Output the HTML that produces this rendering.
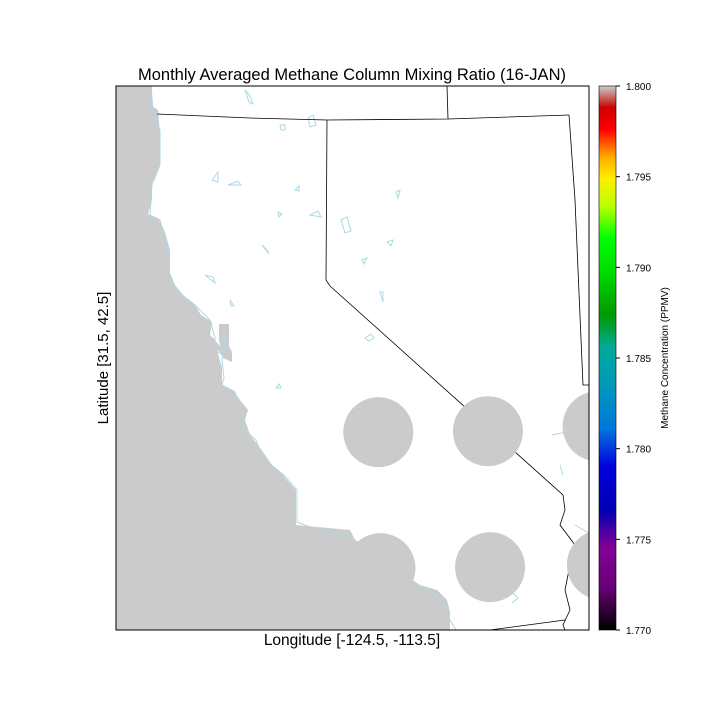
<!DOCTYPE html>
<html><head><meta charset="utf-8"><style>
html,body{margin:0;padding:0;background:#fff;}
svg text{font-family:"Liberation Sans",sans-serif;}
</style></head><body>
<svg id="chart" width="720" height="720" viewBox="0 0 720 720" xmlns="http://www.w3.org/2000/svg">
<defs>
<linearGradient id="cmap" x1="0" y1="1" x2="0" y2="0">
<stop offset="0" stop-color="#000000"/>
<stop offset="0.08" stop-color="#6a0078"/>
<stop offset="0.15" stop-color="#850096"/>
<stop offset="0.22" stop-color="#0000b0"/>
<stop offset="0.3" stop-color="#0000dd"/>
<stop offset="0.37" stop-color="#0077dd"/>
<stop offset="0.45" stop-color="#0099bb"/>
<stop offset="0.52" stop-color="#00aa99"/>
<stop offset="0.58" stop-color="#009900"/>
<stop offset="0.66" stop-color="#00dd00"/>
<stop offset="0.72" stop-color="#00ff00"/>
<stop offset="0.78" stop-color="#bbff00"/>
<stop offset="0.83" stop-color="#ffee00"/>
<stop offset="0.87" stop-color="#ffaa00"/>
<stop offset="0.92" stop-color="#ff0000"/>
<stop offset="0.96" stop-color="#cc0000"/>
<stop offset="1" stop-color="#cccccc"/>
</linearGradient>
<clipPath id="plotclip"><rect x="116" y="86" width="473" height="544"/></clipPath>
</defs>
<text x="352" y="80" font-size="16.5" text-anchor="middle">Monthly Averaged Methane Column Mixing Ratio (16-JAN)</text>
<g clip-path="url(#plotclip)">
<rect x="116" y="86" width="473" height="544" fill="#fff"/>
<polygon fill="#cbcbcb" points="116,86 152,86 152,106 158,110 160,134 160,165 152,183 152,200 148,214 158,218 165,232 170,250 170,273 175,285 183,295 195,305 201,315 212,322 210,335 215,340 221,348 223,355 217,350 222,368 222,385 233,390 240,400 248,410 245,420 250,435 258,445 265,455 272,465 281,472 287,480 296,490 296,525 350,530 355,540 385,560 405,575 420,585 437,590 447,600 450,612 450,630 116,630"/>
<polygon fill="#cbcbcb" points="219,324 229,324 229,346 232,352 232,362 223,358 219,340"/>
<polyline fill="none" stroke="#add8e6" stroke-width="1" points="151,86 153,110 160,130 160,165 152,185 150,215 160,220 166,240 168,270 176,290 195,305 210,320 215,338 215,350 222,355 220,345 227,335 222,360 224,378 222,385 235,392 240,410 245,430 256,440 262,455 272,466 285,476 297,490 297,522 318,530 350,535 360,545 385,560 400,570 415,585 430,590 445,605 450,620 456,630"/>
<g fill="none" stroke="#add8e6" stroke-width="1">
<path d="M245,90 l5,6 l3,8 l-4,-2 z"/><path d="M308,118 l5,-3 l3,10 l-6,2 z"/><path d="M280,125 l5,0 l0,5 l-4,0 z"/>
<path d="M212,180 l6,-8 l0,10 z"/><path d="M228,185 l10,-4 l3,4 z"/><path d="M295,190 l4,-4 l0,5 z"/>
<path d="M278,212 l4,2 l-3,3 z"/><path d="M310,215 l8,-4 l3,6 z"/><path d="M341,220 l6,-3 l4,14 l-6,2 z"/>
<path d="M262,245 l5,5 l2,4 z"/><path d="M387,242 l6,-2 l-2,6 z"/><path d="M205,275 l8,2 l2,6 z"/>
<path d="M230,300 l4,6 l-3,0 z"/><path d="M380,292 l3,0 l0,10 z"/><path d="M365,338 l6,-4 l3,4 l-5,3 z"/>
<path d="M396,192 l4,-2 l-2,8 z"/><path d="M362,260 l5,-2 l-3,6 z"/><path d="M276,388 l3,-4 l2,4 z"/>
<path d="M552,435 l25,-5 l10,5 M560,465 l3,10 M575,525 l14,8 M510,590 l8,8 l-6,5"/>
</g>
<g fill="none" stroke="#000" stroke-width="0.8">
<polyline points="157,114 250,118 327,120 448,119 569,115"/>
<polyline points="447,86 448,119"/>
<polyline points="327,120 326,280 330,286 563,495 565,510 560,525 575,545 570,565 565,590 570,610 563,625 565,630"/>
<polyline points="569,115 575,200 583,385 589,385"/>
<polyline points="490,630 565,620"/>
</g>
<g id="circles"></g>
</g>
<rect x="116" y="86" width="473" height="544" fill="none" stroke="#000" stroke-width="1"/>
<text x="352" y="645" font-size="15.5" text-anchor="middle">Longitude [-124.5, -113.5]</text>
<text x="108" y="358" font-size="15" text-anchor="middle" transform="rotate(-90 108 358)">Latitude [31.5, 42.5]</text>
<rect x="599" y="86" width="17" height="544" fill="url(#cmap)" stroke="#000" stroke-width="0.6"/>
<g id="cbticks"></g>
<text x="668" y="358" font-size="10" text-anchor="middle" transform="rotate(-90 668 358)">Methane Concentration (PPMV)</text>
</svg>
<script>
const pointLons = [-118.4, -115.85, -113.3, -118.35, -115.8, -113.2];
const pointLats = [35.5, 35.52, 35.62, 32.75, 32.77, 32.82];
const pointValues = [1.800, 1.800, 1.800, 1.800, 1.800, 1.800];
const cbTicks = [1.770, 1.775, 1.780, 1.785, 1.790, 1.795, 1.800];
const cbTickLabels = ["1.770","1.775","1.780","1.785","1.790","1.795","1.800"];
const NS="http://www.w3.org/2000/svg";
function xScale(lon){return 116+(lon+124.5)/11*473;}
function yScale(lat){return 630-(lat-31.5)/11*544;}
function cbScale(v){return 630-(v-1.770)/0.030*544;}
const cg=document.getElementById('circles');
for(let i=0;i<pointLons.length;i++){
  const c=document.createElementNS(NS,'circle');
  c.setAttribute('cx',xScale(pointLons[i]));
  c.setAttribute('cy',yScale(pointLats[i]));
  c.setAttribute('r',35);
  c.setAttribute('fill',pointValues[i]>=1.8?'#cbcbcb':'#cc0000');
  
  
  cg.appendChild(c);
}
const tg=document.getElementById('cbticks');
for(let i=0;i<cbTicks.length;i++){
  const y=cbScale(cbTicks[i]);
  const l=document.createElementNS(NS,'line');
  l.setAttribute('x1',616);l.setAttribute('x2',620);l.setAttribute('y1',y);l.setAttribute('y2',y);
  l.setAttribute('stroke','#000');
  
  
  tg.appendChild(l);
  const t=document.createElementNS(NS,'text');
  t.setAttribute('x',626);t.setAttribute('y',y+4);t.setAttribute('font-size','10');
  t.textContent=cbTickLabels[i];
  
  
  tg.appendChild(t);
}
</script>
</body></html>
